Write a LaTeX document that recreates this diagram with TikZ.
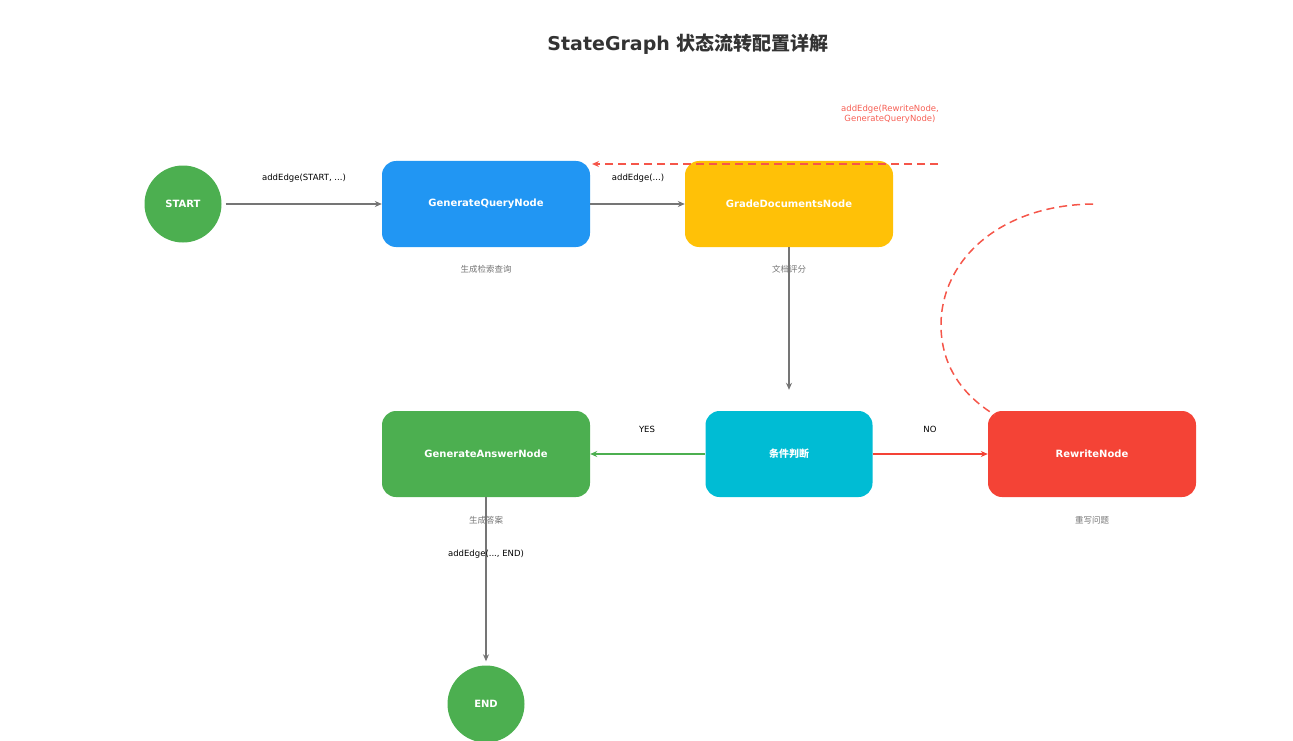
\documentclass[tikz,border=0pt]{standalone}
\usepackage{fontspec}
\setmainfont{DejaVu Sans}
\newfontfamily\cjk{Noto Sans CJK SC}
\usetikzlibrary{arrows.meta}
\definecolor{cgreen}{HTML}{4CAF50}
\definecolor{cblue}{HTML}{2196F3}
\definecolor{camber}{HTML}{FFC107}
\definecolor{ccyan}{HTML}{00BCD4}
\definecolor{cred}{HTML}{F44336}
\definecolor{cgray}{HTML}{757575}
\definecolor{ctext}{HTML}{333333}
\begin{document}
\begin{tikzpicture}[x=1pt,y=-1pt,
  box/.style={rounded corners=14pt,minimum width=208pt,minimum height=86pt,text=white,font=\fontsize{10}{12}\selectfont\bfseries,inner sep=0},
  circ/.style={circle,fill=cgreen,minimum size=77pt,text=white,font=\fontsize{10}{12}\selectfont\bfseries,inner sep=0},
  sub/.style={text=cgray,font=\cjk\fontsize{8.5}{10}\selectfont},
  elab/.style={text=black,font=\fontsize{8.5}{10}\selectfont},
  arr/.style={-{Stealth[length=7pt,width=6pt]},line width=1.5pt,draw=cgray}]
\useasboundingbox (0,0) rectangle (1293,741);
\node[text=ctext,font=\fontsize{19}{22}\selectfont\bfseries] (title) at (688,44) {StateGraph {\cjk 状态流转配置详解}};
\node[circ] (start) at (183,204) {START};
\node[box,fill=cblue] (gq) at (486,204) {GenerateQueryNode};
\node[box,fill=camber] (gd) at (789,204) {GradeDocumentsNode};
\node[box,fill=ccyan,minimum width=167pt] (cond) at (789,454) {\cjk 条件判断};
\node[box,fill=cgreen] (ga) at (486,454) {GenerateAnswerNode};
\node[box,fill=cred] (rw) at (1092,454) {RewriteNode};
\node[circ] (end) at (486,704) {END};
\node[sub] (s1) at (486,269) {生成检索查询};
\node[sub] (s2) at (789,269) {文档评分};
\node[sub] (s3) at (486,520) {生成答案};
\node[sub] (s4) at (1092,520) {重写问题};
\draw[arr,shorten <=4pt] (start) -- (gq);
\draw[arr] (gq) -- (gd);
\draw[arr,shorten >=21pt] (gd) -- (cond);
\draw[arr,draw=cgreen] (cond) -- (ga);
\draw[arr,draw=cred] (cond) -- (rw);
\draw[arr,shorten >=4pt] (ga) -- (end);
\node[elab] (l1) at (304,178) {addEdge(START, ...)};
\node[elab] (l2) at (638,178) {addEdge(...)};
\node[elab] (l3) at (647,429) {YES};
\node[elab] (l4) at (930,429) {NO};
\node[elab] (l5) at (486,554) {addEdge(..., END)};
\node[text=cred!85,font=\fontsize{8.5}{10.5}\selectfont,align=center] (l6) at (890,114) {addEdge(RewriteNode,\\GenerateQueryNode)};
\coordinate (d1) at (938,164);
\coordinate (d2) at (592,164);
\coordinate (a1) at (1093,204);
\coordinate (a2) at (941,325);
\coordinate (a3) at (995,415);
\draw[cred!90,line width=1.5pt,dash pattern=on 8pt off 5pt,-{Stealth[length=7pt,width=6pt,open]}] (d1) -- (d2);
\draw[cred!90,line width=1.5pt,dash pattern=on 8pt off 5pt] (a1) .. controls (1000,205) and (941,260) .. (a2) .. controls (941,365) and (962,395) .. (a3);
\end{tikzpicture}
\end{document}
